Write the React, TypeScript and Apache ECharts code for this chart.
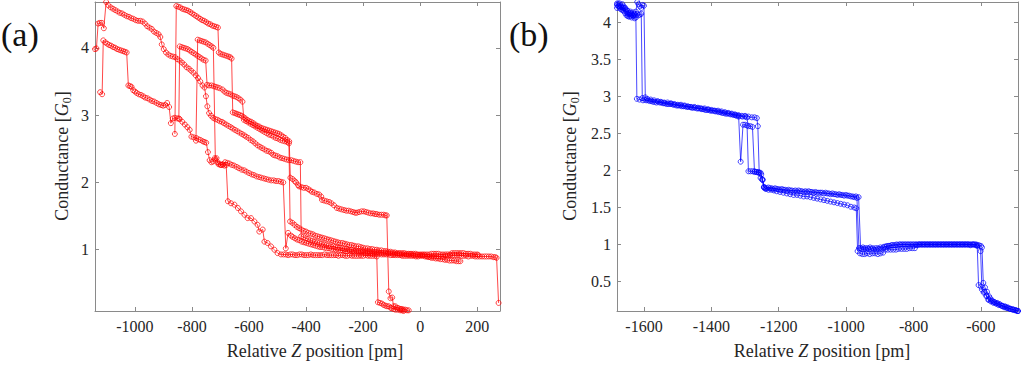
import React, { useEffect, useRef } from "react";
import * as echarts from "echarts";

// ---------- tick labels ----------
const aXTicks = [-1000, -800, -600, -400, -200, 0, 200];
const aYTicks = [1, 2, 3, 4];
const bXTicks = [-1600, -1400, -1200, -1000, -800, -600];
const bYTicks = [0.5, 1, 1.5, 2, 2.5, 3, 3.5, 4];

// ---------- panel (a) traces: [relative Z (pm), conductance (G0)] ----------
const aTrace1 = [[-1140,3.98],[-1135,3.99],[-1129,4.36],[-1123,4.37],[-1116,4.37],[-1109,4.29],[-1101,4.68],[-1093,4.63],[-1085,4.60],[-1077,4.58],[-1069,4.56],[-1061,4.54],[-1053,4.52],[-1045,4.51],[-1037,4.49],[-1029,4.47],[-1021,4.46],[-1013,4.44],[-1005,4.43],[-997,4.41],[-989,4.40],[-981,4.40],[-973,4.39],[-965,4.36],[-957,4.32],[-949,4.30],[-941,4.28],[-933,4.24],[-925,4.22],[-917,4.20],[-911,4.16],[-906,4.05],[-899,3.98],[-891,3.93],[-883,3.90],[-875,3.88],[-867,3.87],[-859,3.86],[-851,3.83],[-843,3.81],[-835,3.78],[-827,3.75],[-819,3.71],[-811,3.69],[-803,3.66],[-795,3.63],[-787,3.59],[-779,3.55],[-771,3.50],[-763,3.44],[-756,3.41],[-751,3.28],[-746,3.13],[-740,3.03],[-733,2.99],[-726,2.96],[-718,2.94],[-710,2.93],[-703,2.91],[-695,2.90],[-688,2.88],[-680,2.86],[-672,2.84],[-664,2.82],[-657,2.80],[-649,2.78],[-641,2.76],[-633,2.74],[-625,2.72],[-617,2.70],[-610,2.68],[-602,2.66],[-594,2.63],[-586,2.61],[-578,2.58],[-570,2.55],[-562,2.53],[-554,2.51],[-546,2.49],[-538,2.47],[-530,2.46],[-522,2.44],[-515,2.41],[-508,2.40],[-500,2.39],[-492,2.37],[-484,2.36],[-476,2.35],[-468,2.34],[-460,2.33],[-452,2.33],[-444,2.32],[-436,2.31],[-428,2.30],[-420,2.30],[-417,1.20],[-409,1.19],[-401,1.17],[-393,1.16],[-385,1.14],[-377,1.13],[-369,1.12],[-361,1.11],[-353,1.10],[-345,1.09],[-337,1.08],[-329,1.07],[-321,1.06],[-313,1.05],[-305,1.05],[-297,1.04],[-289,1.03],[-281,1.03],[-273,1.02],[-265,1.01],[-257,1.01],[-249,1.00],[-241,1.00],[-233,0.99],[-225,0.99],[-217,0.98],[-209,0.98],[-201,0.98],[-193,0.97],[-185,0.97],[-177,0.97],[-169,0.96],[-161,0.96],[-153,0.96],[-145,0.96],[-137,0.95],[-129,0.95],[-121,0.95],[-113,0.95],[-105,0.95],[-97,0.94],[-89,0.94],[-81,0.94],[-73,0.94],[-65,0.93],[-57,0.93],[-49,0.93],[-41,0.93],[-33,0.93],[-25,0.92],[-17,0.92],[-9,0.92],[-1,0.92],[7,0.92],[15,0.92],[23,0.90],[31,0.89],[39,0.88],[47,0.88],[55,0.87],[63,0.87],[71,0.86],[79,0.86],[87,0.85],[95,0.85],[103,0.84],[111,0.84],[119,0.84],[127,0.83],[135,0.83],[141,0.83]];

const aTrace2 = [[-1122,3.34],[-1115,3.31],[-1111,4.11],[-1104,4.08],[-1097,4.06],[-1090,4.04],[-1083,4.03],[-1076,4.01],[-1069,4.00],[-1062,3.98],[-1055,3.97],[-1048,3.96],[-1041,3.95],[-1035,3.94],[-1029,3.93],[-1023,3.44],[-1017,3.43],[-1012,3.42],[-1006,3.37],[-1000,3.35],[-994,3.33],[-987,3.31],[-979,3.30],[-971,3.28],[-964,3.26],[-956,3.25],[-948,3.23],[-940,3.21],[-932,3.20],[-924,3.18],[-916,3.16],[-908,3.15],[-901,3.14],[-894,3.15],[-887,3.18],[-880,3.12],[-874,2.88],[-867,2.95],[-860,2.96],[-851,2.95],[-843,2.94],[-834,2.90],[-825,2.86],[-816,2.82],[-808,2.78],[-802,2.68],[-794,2.67],[-785,2.66],[-777,2.64],[-770,2.63],[-762,2.61],[-756,2.60],[-750,2.59],[-744,2.45],[-738,2.33],[-732,2.30],[-726,2.31],[-720,2.36],[-714,2.36],[-707,2.27],[-700,2.26],[-692,2.27],[-684,2.30],[-676,2.29],[-668,2.28],[-660,2.26],[-652,2.25],[-643,2.23],[-635,2.21],[-626,2.19],[-617,2.18],[-609,2.16],[-600,2.14],[-591,2.12],[-583,2.11],[-574,2.09],[-565,2.08],[-557,2.07],[-548,2.06],[-540,2.05],[-531,2.04],[-522,2.03],[-513,2.03],[-505,2.02],[-496,2.02],[-488,2.01],[-480,2.00],[-471,1.02],[-463,1.25],[-453,1.21],[-447,1.19],[-439,1.17],[-431,1.15],[-423,1.14],[-415,1.12],[-407,1.11],[-399,1.10],[-391,1.09],[-383,1.08],[-375,1.07],[-367,1.06],[-359,1.05],[-351,1.04],[-343,1.04],[-335,1.03],[-327,1.02],[-319,1.02],[-311,1.01],[-303,1.01],[-295,1.00],[-287,1.00],[-279,0.99],[-271,0.99],[-263,0.98],[-255,0.98],[-247,0.98],[-239,0.97],[-231,0.97],[-223,0.97],[-215,0.96],[-207,0.96],[-199,0.96],[-191,0.95],[-183,0.95],[-175,0.95],[-167,0.94],[-159,0.94],[-151,0.94],[-143,0.94],[-135,0.93],[-127,0.93],[-119,0.93],[-111,0.93],[-103,0.92],[-95,0.92],[-87,0.92],[-79,0.92],[-71,0.92],[-63,0.91],[-55,0.91],[-47,0.91],[-39,0.91],[-31,0.91],[-23,0.91],[-15,0.90],[-7,0.90],[1,0.91],[9,0.91],[17,0.90],[25,0.90],[33,0.90],[41,0.90],[49,0.90],[57,0.90],[65,0.90],[73,0.90],[81,0.90],[89,0.91],[97,0.91],[105,0.92],[113,0.92],[121,0.92],[129,0.92],[137,0.92],[145,0.91],[153,0.91],[161,0.91],[169,0.90],[177,0.91],[185,0.91],[193,0.90],[201,0.90],[209,0.90],[217,0.90],[225,0.90],[233,0.90],[241,0.90],[249,0.90],[257,0.89],[263,0.89],[268,0.88],[275,0.21]];

const aTrace3 = [[-860,2.72],[-855,4.62],[-848,4.61],[-841,4.60],[-834,4.58],[-827,4.57],[-820,4.56],[-813,4.55],[-806,4.53],[-799,4.51],[-792,4.49],[-785,4.47],[-778,4.45],[-771,4.43],[-764,4.41],[-757,4.40],[-750,4.38],[-743,4.36],[-736,4.35],[-729,4.33],[-722,4.32],[-715,4.31],[-709,4.30],[-706,3.93],[-700,3.91],[-693,3.90],[-686,3.89],[-679,3.88],[-672,3.87],[-666,3.86],[-661,3.84],[-657,3.04],[-650,3.03],[-644,3.02],[-638,3.01],[-632,3.00],[-626,2.99],[-619,2.97],[-613,2.95],[-606,2.93],[-599,2.91],[-592,2.90],[-585,2.88],[-578,2.86],[-571,2.84],[-564,2.83],[-557,2.81],[-550,2.80],[-543,2.79],[-536,2.78],[-529,2.77],[-522,2.76],[-515,2.75],[-508,2.74],[-501,2.73],[-494,2.72],[-487,2.70],[-480,2.68],[-473,2.66],[-466,2.63],[-459,2.61],[-455,2.07],[-447,2.05],[-440,2.02],[-435,2.00],[-428,1.96],[-424,1.94],[-416,1.93],[-408,1.92],[-400,1.92],[-392,1.90],[-385,1.88],[-379,1.86],[-371,1.85],[-362,1.83],[-354,1.82],[-347,1.79],[-344,1.74],[-336,1.73],[-328,1.72],[-319,1.71],[-311,1.69],[-302,1.66],[-292,1.62],[-284,1.61],[-276,1.60],[-267,1.59],[-259,1.58],[-251,1.58],[-243,1.57],[-235,1.56],[-228,1.55],[-222,1.55],[-214,1.56],[-205,1.57],[-197,1.57],[-189,1.56],[-181,1.55],[-173,1.54],[-165,1.54],[-158,1.53],[-152,1.53],[-144,1.52],[-136,1.52],[-128,1.52],[-122,1.51],[-117,1.51],[-110,0.38],[-104,0.28],[-98,0.29],[-93,0.16],[-87,0.16],[-81,0.14],[-75,0.13],[-69,0.12],[-64,0.12],[-58,0.11],[-52,0.11],[-46,0.10],[-40,0.10],[-34,0.08]];

const aTrace4 = [[-846,2.95],[-843,4.02],[-836,4.01],[-829,4.00],[-822,3.99],[-815,3.98],[-808,3.96],[-801,3.94],[-794,3.92],[-787,3.90],[-780,3.88],[-773,3.86],[-766,3.84],[-759,3.82],[-752,3.81],[-747,3.45],[-740,3.44],[-732,3.44],[-724,3.43],[-717,3.42],[-710,3.41],[-703,3.40],[-693,3.38],[-686,3.35],[-679,3.33],[-672,3.32],[-665,3.31],[-658,3.29],[-651,3.28],[-644,3.27],[-637,3.25],[-630,3.23],[-623,3.20],[-618,2.93],[-610,2.91],[-602,2.89],[-594,2.87],[-586,2.85],[-578,2.83],[-570,2.81],[-562,2.79],[-554,2.77],[-546,2.75],[-538,2.73],[-530,2.71],[-522,2.70],[-514,2.68],[-506,2.66],[-498,2.65],[-490,2.63],[-482,2.62],[-474,2.61],[-466,2.60],[-460,2.58],[-456,1.42],[-448,1.40],[-440,1.37],[-432,1.34],[-424,1.32],[-416,1.30],[-408,1.28],[-400,1.27],[-392,1.25],[-384,1.24],[-376,1.23],[-368,1.21],[-360,1.20],[-352,1.19],[-344,1.18],[-336,1.17],[-328,1.16],[-320,1.15],[-312,1.14],[-304,1.13],[-296,1.12],[-288,1.11],[-280,1.10],[-272,1.10],[-264,1.09],[-256,1.08],[-248,1.07],[-240,1.07],[-232,1.06],[-224,1.05],[-216,1.05],[-208,1.04],[-200,1.03],[-192,1.02],[-184,1.02],[-176,1.01],[-168,1.01],[-160,1.00],[-152,1.00],[-144,0.99],[-136,0.99],[-128,0.98],[-120,0.98],[-112,0.97],[-104,0.97],[-96,0.96],[-88,0.96],[-80,0.95],[-72,0.95],[-64,0.95],[-56,0.95],[-48,0.94],[-40,0.94],[-32,0.94],[-24,0.94],[-16,0.94],[-8,0.93],[0,0.93],[8,0.93],[16,0.93],[24,0.93],[32,0.93],[40,0.94],[48,0.94],[56,0.94],[64,0.94],[72,0.93],[80,0.93],[88,0.93],[96,0.93],[104,0.93],[112,0.95],[120,0.95],[128,0.95],[136,0.95],[144,0.95],[152,0.95],[160,0.94],[168,0.94],[176,0.94],[184,0.93],[192,0.93],[200,0.93],[204,0.92]];

const aTrace5 = [[-786,2.62],[-780,4.12],[-773,4.11],[-766,4.10],[-759,4.09],[-752,4.08],[-745,4.06],[-738,4.04],[-731,4.02],[-725,4.00],[-718,2.34],[-711,2.30],[-704,2.28],[-698,2.26],[-692,2.26],[-686,2.25],[-680,2.26],[-674,1.72],[-663,1.69],[-651,1.67],[-639,1.62],[-628,1.57],[-616,1.52],[-605,1.47],[-593,1.47],[-581,1.42],[-570,1.37],[-564,1.27],[-552,1.30],[-546,1.12],[-535,1.10],[-523,1.05],[-511,1.00],[-500,0.95],[-488,0.93],[-479,0.93],[-471,0.93],[-463,0.92],[-455,0.93],[-447,0.93],[-439,0.92],[-431,0.92],[-423,0.93],[-415,0.93],[-407,0.92],[-399,0.92],[-391,0.92],[-383,0.93],[-375,0.92],[-367,0.92],[-359,0.92],[-351,0.92],[-343,0.92],[-335,0.93],[-327,0.92],[-319,0.92],[-311,0.92],[-303,0.92],[-295,0.92],[-287,0.91],[-279,0.92],[-271,0.92],[-263,0.91],[-255,0.91],[-247,0.92],[-239,0.91],[-231,0.91],[-223,0.91],[-215,0.91],[-207,0.91],[-199,0.91],[-191,0.92],[-183,0.91],[-175,0.91],[-167,0.91],[-159,0.91],[-152,0.90],[-148,0.22],[-141,0.21],[-134,0.20],[-128,0.18],[-122,0.17],[-116,0.16],[-110,0.16],[-104,0.14],[-100,0.13],[-93,0.12],[-87,0.11],[-79,0.11],[-70,0.10],[-64,0.10],[-58,0.09]];

// ---------- panel (b) traces ----------
const bTrace1 = [[-1680,4.24],[-1676,4.26],[-1672,4.22],[-1668,4.18],[-1664,4.20],[-1660,4.16],[-1656,4.13],[-1652,4.10],[-1648,4.12],[-1644,4.08],[-1640,4.09],[-1636,4.07],[-1632,4.10],[-1628,4.06],[-1624,4.07],[-1621,2.97],[-1613,2.96],[-1603,2.95],[-1593,2.95],[-1583,2.94],[-1573,2.93],[-1563,2.92],[-1553,2.92],[-1543,2.91],[-1533,2.90],[-1523,2.90],[-1513,2.89],[-1503,2.88],[-1493,2.88],[-1483,2.87],[-1473,2.86],[-1463,2.86],[-1453,2.85],[-1443,2.84],[-1433,2.84],[-1423,2.83],[-1413,2.82],[-1403,2.81],[-1393,2.81],[-1383,2.80],[-1373,2.79],[-1363,2.78],[-1353,2.77],[-1343,2.76],[-1333,2.75],[-1325,2.74],[-1319,2.73],[-1313,2.12],[-1306,2.62],[-1300,2.62],[-1294,2.61],[-1290,1.99],[-1284,1.99],[-1278,1.99],[-1272,1.98],[-1266,1.98],[-1260,1.97],[-1254,1.90],[-1248,1.87],[-1243,1.77],[-1236,1.76],[-1226,1.76],[-1216,1.75],[-1206,1.75],[-1196,1.74],[-1186,1.74],[-1176,1.73],[-1166,1.73],[-1156,1.72],[-1146,1.72],[-1136,1.72],[-1126,1.71],[-1116,1.71],[-1106,1.71],[-1096,1.70],[-1086,1.70],[-1076,1.70],[-1066,1.69],[-1056,1.69],[-1046,1.68],[-1036,1.68],[-1026,1.67],[-1016,1.67],[-1006,1.66],[-996,1.66],[-986,1.65],[-976,1.64],[-968,1.63],[-962,0.95],[-955,0.94],[-948,0.94],[-941,0.93],[-934,0.94],[-926,0.94],[-918,0.93],[-911,0.93],[-903,0.94],[-895,0.94],[-887,0.97],[-879,0.98],[-871,0.98],[-863,0.99],[-855,0.99],[-847,0.99],[-839,1.00],[-831,1.00],[-823,1.00],[-815,1.00],[-807,1.00],[-799,1.00],[-791,1.00],[-783,1.00],[-775,1.00],[-767,1.00],[-759,1.00],[-751,1.00],[-743,1.00],[-735,1.00],[-727,1.00],[-719,1.00],[-711,1.00],[-703,1.00],[-695,1.00],[-687,1.00],[-679,1.00],[-671,1.00],[-663,1.00],[-655,1.00],[-647,1.00],[-639,1.00],[-631,0.99],[-623,1.00],[-615,0.99],[-611,0.98],[-607,0.45],[-600,0.43],[-592,0.35],[-584,0.30],[-578,0.25],[-571,0.23],[-563,0.21],[-555,0.20],[-547,0.18],[-539,0.17],[-531,0.15],[-523,0.14],[-515,0.13],[-507,0.12],[-499,0.11],[-492,0.10]];

const bTrace2 = [[-1680,4.20],[-1676,4.22],[-1672,4.26],[-1668,4.23],[-1664,4.17],[-1660,4.20],[-1656,4.18],[-1652,4.15],[-1648,4.09],[-1644,4.11],[-1640,4.13],[-1636,4.10],[-1632,4.09],[-1628,4.11],[-1624,4.10],[-1620,4.12],[-1616,4.10],[-1612,4.11],[-1608,4.12],[-1605,2.98],[-1598,2.96],[-1588,2.95],[-1578,2.94],[-1568,2.93],[-1558,2.93],[-1548,2.92],[-1538,2.91],[-1528,2.90],[-1518,2.90],[-1508,2.89],[-1498,2.88],[-1488,2.87],[-1478,2.87],[-1468,2.86],[-1458,2.85],[-1448,2.85],[-1438,2.84],[-1428,2.83],[-1418,2.82],[-1408,2.82],[-1398,2.81],[-1388,2.80],[-1378,2.79],[-1368,2.78],[-1358,2.77],[-1348,2.77],[-1338,2.76],[-1328,2.75],[-1318,2.74],[-1308,2.73],[-1300,2.73],[-1295,2.72],[-1290,2.60],[-1284,2.60],[-1278,2.59],[-1272,1.99],[-1266,1.98],[-1260,1.98],[-1254,1.97],[-1249,1.88],[-1244,1.77],[-1238,1.75],[-1230,1.74],[-1222,1.74],[-1214,1.73],[-1206,1.72],[-1196,1.71],[-1186,1.70],[-1176,1.69],[-1166,1.68],[-1156,1.67],[-1146,1.67],[-1136,1.66],[-1126,1.65],[-1116,1.65],[-1106,1.64],[-1096,1.63],[-1086,1.62],[-1076,1.61],[-1066,1.60],[-1056,1.59],[-1046,1.58],[-1036,1.57],[-1026,1.56],[-1016,1.55],[-1006,1.54],[-996,1.53],[-986,1.51],[-976,1.50],[-970,1.49],[-966,0.91],[-959,0.88],[-952,0.87],[-945,0.87],[-938,0.88],[-930,0.87],[-922,0.88],[-914,0.88],[-906,0.87],[-898,0.88],[-890,0.89],[-884,0.93],[-876,0.93],[-868,0.93],[-860,0.93],[-852,0.93],[-844,0.94],[-836,0.94],[-828,0.94],[-820,0.94],[-812,0.95],[-804,0.95],[-796,0.95],[-790,0.99],[-782,1.00],[-774,1.00],[-766,1.00],[-758,1.00],[-750,1.00],[-742,1.00],[-734,1.00],[-726,1.00],[-718,1.00],[-710,1.00],[-702,1.00],[-694,1.00],[-686,1.00],[-678,1.00],[-670,1.00],[-662,1.00],[-654,1.00],[-646,1.00],[-638,1.00],[-630,1.00],[-622,1.00],[-614,1.00],[-606,0.99],[-601,0.91],[-597,0.39],[-590,0.36],[-583,0.31],[-577,0.26],[-569,0.24],[-561,0.22],[-553,0.20],[-545,0.19],[-537,0.17],[-529,0.16],[-521,0.15],[-513,0.13],[-505,0.12],[-497,0.11],[-490,0.10]];

const bTrace3 = [[-1680,4.26],[-1676,4.23],[-1672,4.20],[-1668,4.21],[-1664,4.25],[-1660,4.22],[-1656,4.20],[-1652,4.18],[-1648,4.16],[-1644,4.13],[-1640,4.15],[-1636,4.12],[-1632,4.14],[-1628,4.12],[-1624,4.15],[-1620,4.28],[-1616,4.25],[-1612,4.22],[-1608,4.20],[-1604,4.24],[-1600,4.23],[-1596,2.99],[-1590,2.97],[-1580,2.96],[-1570,2.95],[-1560,2.94],[-1550,2.93],[-1540,2.92],[-1530,2.92],[-1520,2.91],[-1510,2.90],[-1500,2.89],[-1490,2.89],[-1480,2.88],[-1470,2.87],[-1460,2.86],[-1450,2.86],[-1440,2.85],[-1430,2.84],[-1420,2.84],[-1410,2.83],[-1400,2.82],[-1390,2.81],[-1380,2.81],[-1370,2.80],[-1360,2.79],[-1350,2.78],[-1340,2.77],[-1330,2.76],[-1320,2.75],[-1310,2.74],[-1300,2.74],[-1290,2.73],[-1280,2.72],[-1272,2.72],[-1265,2.71],[-1262,2.60],[-1258,1.97],[-1252,1.95],[-1248,1.88],[-1244,1.78],[-1240,1.76],[-1231,1.77],[-1221,1.76],[-1211,1.76],[-1201,1.75],[-1191,1.75],[-1181,1.74],[-1171,1.74],[-1161,1.73],[-1151,1.73],[-1141,1.73],[-1131,1.72],[-1121,1.72],[-1111,1.72],[-1101,1.71],[-1091,1.71],[-1081,1.70],[-1071,1.70],[-1061,1.70],[-1051,1.69],[-1041,1.69],[-1031,1.68],[-1021,1.68],[-1011,1.67],[-1001,1.67],[-991,1.66],[-981,1.65],[-971,1.65],[-963,1.64],[-957,0.95],[-950,0.96],[-943,0.95],[-936,0.95],[-929,0.96],[-921,0.95],[-913,0.95],[-906,0.95],[-898,0.96],[-890,0.96],[-882,0.97],[-874,0.98],[-866,0.99],[-858,0.99],[-850,1.00],[-842,1.00],[-834,1.00],[-826,1.00],[-818,1.00],[-810,1.00],[-802,1.00],[-794,1.00],[-786,1.00],[-778,1.00],[-770,1.00],[-762,1.00],[-754,1.00],[-746,1.00],[-738,1.00],[-730,1.00],[-722,1.00],[-714,1.00],[-706,1.00],[-698,1.00],[-690,1.00],[-682,1.00],[-674,1.00],[-666,1.00],[-658,1.00],[-650,1.00],[-642,1.00],[-634,1.00],[-626,1.00],[-618,1.00],[-610,0.99],[-600,0.98],[-597,0.96],[-593,0.48],[-588,0.42],[-582,0.36],[-576,0.30],[-572,0.27],[-566,0.24],[-560,0.22],[-552,0.21],[-544,0.19],[-536,0.17],[-528,0.16],[-520,0.14],[-512,0.13],[-504,0.12],[-496,0.11],[-490,0.10]];

const aTraces = [aTrace1, aTrace2, aTrace3, aTrace4, aTrace5];
const bTraces = [bTrace1, bTrace2, bTrace3];

const FONT = '"Liberation Serif", "Times New Roman", serif';
const AXIS_COLOR = "#8a8a8a";
const LABEL_COLOR = "#262626";

const plain = (v: number) => String(v);

function mainAxis(idx: number, min: number, max: number, ticks: number[], pos: string, isX: boolean) {
  return {
    type: "value",
    gridIndex: idx,
    min,
    max,
    position: pos,
    axisLine: { show: true, onZero: false, lineStyle: { color: AXIS_COLOR, width: 1 } },
    axisTick: { show: true, inside: true, length: 4, customValues: ticks, lineStyle: { color: AXIS_COLOR } },
    axisLabel: {
      show: true,
      customValues: ticks,
      formatter: plain,
      color: LABEL_COLOR,
      fontSize: 16,
      fontFamily: FONT,
      margin: isX ? 7 : 6,
    },
    splitLine: { show: false },
  };
}

function mirrorAxis(idx: number, min: number, max: number, ticks: number[], pos: string) {
  return {
    type: "value",
    gridIndex: idx,
    min,
    max,
    position: pos,
    axisLine: { show: true, onZero: false, lineStyle: { color: AXIS_COLOR, width: 1 } },
    axisTick: { show: true, inside: true, length: 4, customValues: ticks, lineStyle: { color: AXIS_COLOR } },
    axisLabel: { show: false },
    splitLine: { show: false },
  };
}

function traceSeries(data: number[][], axis: number, color: string) {
  return {
    type: "line",
    xAxisIndex: axis,
    yAxisIndex: axis,
    data,
    symbol: "circle",
    symbolSize: 5,
    showSymbol: true,
    silent: true,
    lineStyle: { width: 0.8, color, opacity: 0.9 },
    itemStyle: { color: "rgba(255,255,255,0)", borderColor: color, borderWidth: 0.8, opacity: 0.9 },
    emphasis: { disabled: true },
    z: 2,
  };
}

const titleRich = {
  i: { fontStyle: "italic", fontSize: 18, fontFamily: FONT, lineHeight: 22, fill: LABEL_COLOR },
  s: { fontSize: 12, fontFamily: FONT, lineHeight: 12, verticalAlign: "bottom", fill: LABEL_COLOR },
};

function axisTitle(text: string, x: number, y: number, rotate: boolean) {
  return {
    type: "text",
    x,
    y,
    rotation: rotate ? Math.PI / 2 : 0,
    silent: true,
    style: {
      text,
      fontSize: 18,
      fontFamily: FONT,
      lineHeight: 22,
      fill: LABEL_COLOR,
      align: "center",
      verticalAlign: "middle",
      rich: titleRich,
    },
  };
}

export default function App() {
  const ref = useRef<HTMLDivElement>(null);
  useEffect(() => {
    if (!ref.current) return;
    const chart = echarts.init(ref.current, null, { renderer: "svg" });
    const option = {
      animation: false,
      backgroundColor: "#ffffff",
      grid: [
        { left: 95, top: 2, width: 405, height: 309, containLabel: false, outerBoundsMode: "none" },
        { left: 617, top: 2, width: 401, height: 309, containLabel: false, outerBoundsMode: "none" },
      ],
      xAxis: [
        mainAxis(0, -1140, 280, aXTicks, "bottom", true),
        mirrorAxis(0, -1140, 280, aXTicks, "top"),
        mainAxis(1, -1680, -490, bXTicks, "bottom", true),
        mirrorAxis(1, -1680, -490, bXTicks, "top"),
      ],
      yAxis: [
        mainAxis(0, 0.09, 4.68, aYTicks, "left", false),
        mirrorAxis(0, 0.09, 4.68, aYTicks, "right"),
        mainAxis(1, 0.1, 4.28, bYTicks, "left", false),
        mirrorAxis(1, 0.1, 4.28, bYTicks, "right"),
      ],
      series: [
        ...aTraces.map((t) => traceSeries(t, 0, "#ff0000")),
        ...bTraces.map((t) => traceSeries(t, 2, "#0000ff")),
      ],
      graphic: [
        { type: "text", left: 1, top: 17, silent: true, style: { text: "(a)", fontSize: 34, fontFamily: FONT, fill: "#111" } },
        { type: "text", left: 509, top: 17, silent: true, style: { text: "(b)", fontSize: 34, fontFamily: FONT, fill: "#111" } },
        axisTitle("Relative {i|Z} position [pm]", 315, 351, false),
        axisTitle("Relative {i|Z} position [pm]", 822, 351, false),
        axisTitle("Conductance [{i|G}{s|0}]", 62, 156, true),
        axisTitle("Conductance [{i|G}{s|0}]", 570, 156, true),
      ],
    };
    chart.setOption(option as any);
    return () => chart.dispose();
  }, []);
  return (
    <div
      ref={ref}
      style={{ position: "absolute", left: 0, top: 0, width: 1024, height: 366, background: "#fff" }}
    />
  );
}
